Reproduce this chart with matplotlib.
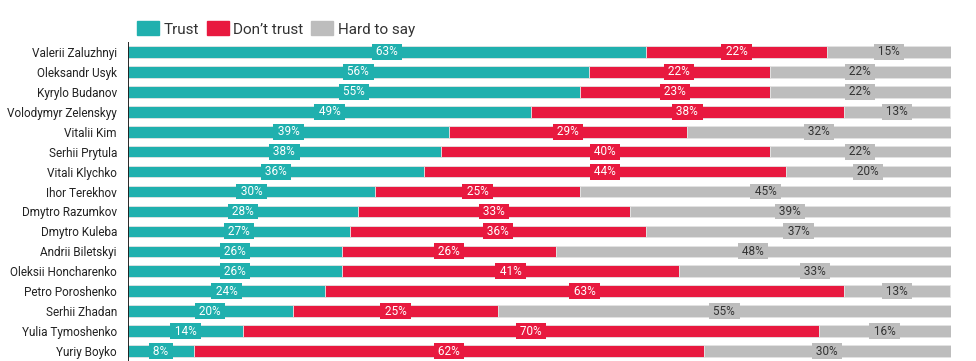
import matplotlib.pyplot as plt
from matplotlib.patches import Patch

names = ['Valerii Zaluzhnyi', 'Oleksandr Usyk', 'Kyrylo Budanov', 'Volodymyr Zelenskyy',
         'Vitalii Kim', 'Serhii Prytula', 'Vitali Klychko', 'Ihor Terekhov',
         'Dmytro Razumkov', 'Dmytro Kuleba', 'Andrii Biletskyi', 'Oleksii Honcharenko',
         'Petro Poroshenko', 'Serhii Zhadan', 'Yulia Tymoshenko', 'Yuriy Boyko']
trust = [63, 56, 55, 49, 39, 38, 36, 30, 28, 27, 26, 26, 24, 20, 14, 8]
dont_trust = [22, 22, 23, 38, 29, 40, 44, 25, 33, 36, 26, 41, 63, 25, 70, 62]
hard_to_say = [15, 22, 22, 13, 32, 22, 20, 45, 39, 37, 48, 33, 13, 55, 16, 30]

series = ['Trust', "Don’t trust", 'Hard to say']
colors = ['#20b0ae', '#e8193f', '#bdbdbd']
text_colors = ['white', 'white', '#333333']

plt.rcParams['font.family'] = ['Roboto', 'DejaVu Sans']

fig = plt.figure(figsize=(9.76, 3.61), dpi=100)
ax = fig.add_axes([128 / 976, 0, (950.5 - 128) / 976, 1 - 42 / 361])

y = list(range(len(names)))
left = [0] * len(names)
for vals, col, tcol in zip([trust, dont_trust, hard_to_say], colors, text_colors):
    ax.barh(y, vals, left=left, height=0.58, color=col,
            edgecolor='#e4e4e4', linewidth=0.6)
    for i, v in enumerate(vals):
        ax.text(left[i] + v / 2, i, f' {v}% ', ha='center', va='center',
                fontsize=8.5, color=tcol,
                bbox=dict(boxstyle='square,pad=0.12', fc=col, ec='none'))
    left = [l + v for l, v in zip(left, vals)]

ax.set_xlim(0, 100)
ax.set_ylim(len(names) - 0.5, -0.5)
ax.set_yticks(y)
ax.set_yticklabels(names, fontsize=8.5, color='#222222')
ax.tick_params(axis='y', length=0, pad=8)
ax.set_xticks([])
for s in ['top', 'right', 'bottom', 'left']:
    ax.spines[s].set_visible(False)
ax.axvline(0, color='black', linewidth=1.2)

handles = [Patch(color=c, label=s) for c, s in zip(colors, series)]
fig.legend(handles=handles, loc='center left', bbox_to_anchor=(123 / 976, 1 - 29 / 361),
           ncol=3, frameon=False, fontsize=11, handlelength=1.45, handleheight=1.0,
           handletextpad=0.3, columnspacing=0.5, labelcolor='#333333')

fig.savefig('out.png', dpi=100, facecolor='white')
